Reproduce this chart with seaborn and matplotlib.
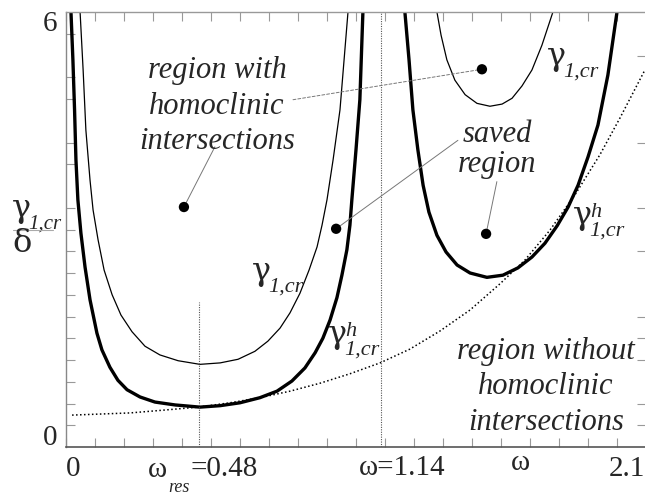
import numpy as np
import pandas as pd
import matplotlib
matplotlib.use("Agg")
import matplotlib.pyplot as plt
from matplotlib.lines import Line2D
import seaborn as sns

# --- critical amplitude curves (omega, gamma/delta) ---
omega_h_left = [0.018, 0.025, 0.031, 0.036, 0.043, 0.054, 0.069, 0.087, 0.112, 0.130, 0.159, 0.188,
                0.221, 0.268, 0.322, 0.395, 0.485, 0.558, 0.630, 0.702, 0.764, 0.818, 0.865, 0.902,
                0.930, 0.956, 0.981, 0.999, 1.017, 1.028, 1.035, 1.050, 1.064, 1.075]
gamma_h_left = [6.00, 5.34, 4.65, 3.96, 3.41, 2.95, 2.48, 2.03, 1.57, 1.34, 1.10, 0.92,
                0.79, 0.69, 0.62, 0.58, 0.55, 0.57, 0.61, 0.68, 0.77, 0.91, 1.09, 1.30,
                1.50, 1.75, 2.06, 2.37, 2.72, 3.06, 3.41, 4.10, 4.79, 6.00]

omega_cr_left = [0.051, 0.062, 0.072, 0.087, 0.098, 0.116, 0.138, 0.167, 0.199, 0.239, 0.286, 0.340,
                 0.406, 0.485, 0.558, 0.623, 0.684, 0.731, 0.775, 0.811, 0.847, 0.880, 0.909, 0.927,
                 0.945, 0.967, 0.992, 1.021]
gamma_cr_left = [6.00, 5.20, 4.37, 3.68, 3.27, 2.86, 2.44, 2.10, 1.82, 1.59, 1.39, 1.27,
                 1.19, 1.14, 1.16, 1.21, 1.32, 1.46, 1.64, 1.85, 2.12, 2.44, 2.76, 3.06,
                 3.41, 3.96, 4.65, 6.00]

omega_cr_right = [1.343, 1.358, 1.379, 1.408, 1.445, 1.488, 1.535, 1.579, 1.615, 1.651, 1.687, 1.723, 1.763]
gamma_cr_right = [6.00, 5.68, 5.34, 5.06, 4.86, 4.74, 4.70, 4.73, 4.81, 4.98, 5.20, 5.54, 6.00]

omega_h_right = [1.227, 1.242, 1.256, 1.274, 1.293, 1.314, 1.343, 1.376, 1.416, 1.463, 1.524, 1.582,
                 1.636, 1.687, 1.734, 1.778, 1.818, 1.854, 1.890, 1.926, 1.962, 1.995]
gamma_h_right = [6.00, 5.34, 4.65, 4.10, 3.61, 3.24, 2.92, 2.69, 2.51, 2.40, 2.34, 2.37,
                 2.47, 2.62, 2.81, 3.05, 3.31, 3.61, 4.00, 4.44, 5.13, 6.00]

# lower boundary (dotted)
omega_low = [0.022, 0.232, 0.358, 0.478, 0.594, 0.702, 0.811, 0.920, 1.028, 1.137, 1.245,
             1.354, 1.463, 1.571, 1.662, 1.752, 1.843, 1.933, 2.006, 2.096]
gamma_low = [0.44, 0.47, 0.51, 0.55, 0.61, 0.68, 0.77, 0.88, 1.01, 1.16, 1.35,
             1.60, 1.89, 2.25, 2.58, 2.99, 3.48, 4.03, 4.54, 5.20]

# marked points inside the regions
pts_omega = [0.427, 0.978, 1.506, 1.521]
pts_gamma = [3.31, 3.01, 5.21, 2.94]

omega_res = 0.48
omega_mid = 1.14
res_line_top = 2.0

x_ticks = np.round(np.arange(21) * 0.105, 4)
left_ticks = [v for v in np.round(np.arange(1, 20) * 0.3, 2) if v not in (3.6, 4.5, 5.4)]
right_ticks = [0.3, 0.6, 1.2, 1.5, 1.8, 2.7, 3.3, 4.2, 5.4]

sns.set_theme(style="white")
plt.rcParams["font.family"] = ["Liberation Serif", "DejaVu Serif"]
GREEK = ["DejaVu Serif", "Liberation Serif"]

W, H = 645, 496
fig = plt.figure(figsize=(W / 100, H / 100), dpi=100)
fig.patch.set_facecolor("white")
ax = fig.add_axes([66 / W, 49 / H, 580 / W, 435 / H])
ax.set_facecolor("white")

def curve(xs, ys, lw, **kw):
    sns.lineplot(x=xs, y=ys, ax=ax, color="black", linewidth=lw, sort=False,
                 estimator=None, legend=False, **kw)

curve(omega_cr_left, gamma_cr_left, 0.9)
curve(omega_cr_right, gamma_cr_right, 0.9)
curve(omega_h_left, gamma_h_left, 2.4)
curve(omega_h_right, gamma_h_right, 2.4)
curve(omega_low, gamma_low, 1.1, linestyle=(0, (1, 1.6)))

ax.vlines(omega_res, 0, res_line_top, colors="#555555", linewidth=0.8, linestyles=(0, (1, 1.2)))
ax.vlines(omega_mid, 0, 6, colors="#555555", linewidth=0.8, linestyles=(0, (1, 1.2)))

# leader lines from labels to points
lead = dict(arrowstyle="-", color="#777777", lw=0.7, shrinkA=0, shrinkB=0)
ax.annotate("", xy=(pts_omega[0], pts_gamma[0]), xytext=(0.539, 4.14), arrowprops=lead)
ax.annotate("", xy=(pts_omega[1], pts_gamma[1]), xytext=(1.419, 4.23), arrowprops=lead)
ax.annotate("", xy=(pts_omega[3], pts_gamma[3]), xytext=(1.560, 3.66), arrowprops=lead)
ax.annotate("", xy=(pts_omega[2], pts_gamma[2]), xytext=(0.822, 4.79),
            arrowprops=dict(lead, linestyle=(0, (3, 2))))

sns.scatterplot(x=pts_omega, y=pts_gamma, ax=ax, color="black", s=55, edgecolor="none", zorder=5)

ax.set_xlim(0, 2.1)
ax.set_ylim(0, 6)
ax.set_xticks(x_ticks)
ax.set_yticks(left_ticks)
ax.tick_params(axis="both", direction="in", length=6.5, width=0.8, color="#999999",
               top=True, bottom=True, left=True, right=False,
               labelbottom=False, labelleft=False)
sec = ax.secondary_yaxis("right")
sec.set_yticks(right_ticks)
sec.tick_params(direction="in", length=6.5, width=0.8, color="#999999", labelright=False)
sec.spines["right"].set_visible(False)
for name, col, lw in [("left", "#888888", 1.0), ("top", "#999999", 1.0),
                      ("bottom", "#555555", 1.2)]:
    ax.spines[name].set_color(col)
    ax.spines[name].set_linewidth(lw)
ax.spines["right"].set_visible(False)

# region annotations
region_kw = dict(fontsize=22, style="italic", ha="center", va="center")
ax.text(0.547, 4.70, "region with\nhomoclinic\nintersections", linespacing=1.3, **region_kw)
ax.text(1.560, 4.10, "saved\nregion", linespacing=1.05, **region_kw)
ax.text(1.738, 0.83, "region without\nhomoclinic\nintersections", linespacing=1.3, **region_kw)


def gamma_label(x, y, sup=None, size=23, sub_size=16, target=ax, coords="data"):
    """Draw gamma with italic '1,cr' subscript (and optional superscript)."""
    target.annotate("γ", xy=(x, y), xycoords=coords, fontsize=size, ha="left",
                    va="baseline", family=GREEK)
    dx = size * 0.50
    target.annotate("1,cr", xy=(x, y), xycoords=coords, xytext=(dx, -size * 0.36),
                    textcoords="offset points", fontsize=sub_size, style="italic",
                    ha="left", va="baseline")
    if sup:
        target.annotate(sup, xy=(x, y), xycoords=coords, xytext=(dx + 1, size * 0.22),
                        textcoords="offset points", fontsize=sub_size, style="italic",
                        ha="left", va="baseline")


gamma_label(1.742, 5.27)
gamma_label(0.673, 2.30)
gamma_label(0.949, 1.43, sup="h")
gamma_label(1.836, 3.08, sup="h")


def ptext(px, py, s, **kw):
    fig.text(px / W, 1 - py / H, s, **kw)

num = dict(fontsize=21, va="center")
ptext(50, 24, "6", ha="center", **num)
ptext(50, 438, "0", ha="center", **num)
ptext(73, 469, "0", ha="center", **num)
ptext(157, 470, "ω", ha="center", **num)
ptext(179, 487, "res", ha="center", fontsize=13, style="italic", va="center")
ptext(191, 469, "=0.48", ha="left", **num)
ptext(402, 468, "ω=1.14", ha="center", **num)
ptext(520, 463, "ω", ha="center", **num)
ptext(609, 469, "2.1", ha="left", **num)

# y-axis label written as a fraction
gamma_label(12 / W, 1 - 217 / H, size=23, sub_size=15, coords="figure fraction")
ptext(12, 243, "δ", fontsize=23, ha="left", va="center", family=GREEK)
fig.add_artist(Line2D([13 / W, 53 / W], [1 - 230 / H, 1 - 230 / H], color="#aaaaaa", lw=0.8))

fig.savefig("out.png", dpi=100, facecolor="white")
